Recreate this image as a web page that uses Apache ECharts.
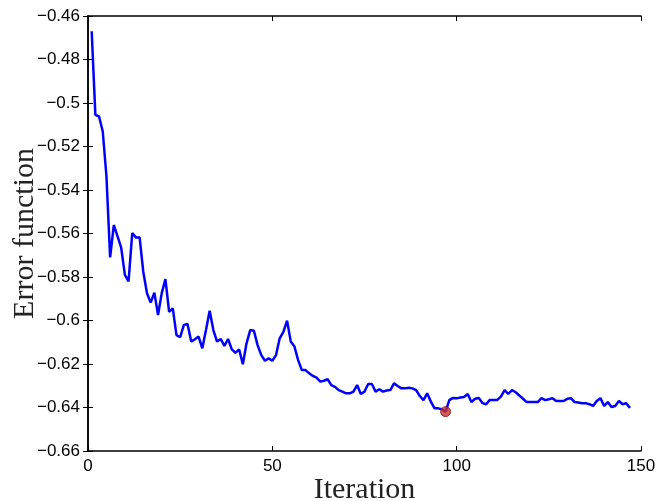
<!DOCTYPE html>
<html>
<head>
<meta charset="utf-8">
<script src="https://cdn.jsdelivr.net/npm/echarts@6/dist/echarts.min.js"></script>
<style>
html,body{margin:0;padding:0;background:#fff;}
#chart{width:657px;height:501px;}
</style>
</head>
<body>
<div id="chart"></div>
<script>
const iterations = [];
for (let i = 1; i <= 147; i++) iterations.push(i);
const errorValues = [
-0.467,-0.5055,-0.5062,-0.5131,-0.5336,-0.571,-0.5561,-0.5612,-0.5665,-0.579,
-0.582,-0.5598,-0.5618,-0.5618,-0.5777,-0.5875,-0.5918,-0.5872,-0.5975,-0.5874,
-0.581,-0.596,-0.5944,-0.6067,-0.6077,-0.602,-0.6016,-0.6097,-0.6086,-0.6074,
-0.6128,-0.6044,-0.5955,-0.6044,-0.6097,-0.6085,-0.6117,-0.6085,-0.6133,-0.6148,
-0.6133,-0.6201,-0.6105,-0.6044,-0.6047,-0.6113,-0.6159,-0.6185,-0.6174,-0.6185,
-0.6159,-0.6082,-0.6052,-0.6001,-0.6097,-0.612,-0.6182,-0.6228,-0.6228,-0.6243,
-0.6255,-0.6263,-0.6281,-0.6277,-0.627,-0.6297,-0.6305,-0.632,-0.6327,-0.6335,
-0.6335,-0.6327,-0.6297,-0.6338,-0.6327,-0.6292,-0.6292,-0.6327,-0.6316,-0.6327,
-0.6322,-0.632,-0.6289,-0.6301,-0.6312,-0.6312,-0.6309,-0.6312,-0.632,-0.6347,
-0.6366,-0.6335,-0.6373,-0.6404,-0.6404,-0.6408,-0.6419,-0.6366,-0.6356,-0.6358,
-0.6354,-0.6352,-0.6338,-0.6375,-0.636,-0.6356,-0.638,-0.6385,-0.6365,-0.6365,
-0.6365,-0.635,-0.632,-0.6338,-0.632,-0.633,-0.6345,-0.636,-0.6375,-0.6375,
-0.6375,-0.6375,-0.6357,-0.6366,-0.6362,-0.6357,-0.637,-0.637,-0.637,-0.636,
-0.6357,-0.6375,-0.6377,-0.638,-0.638,-0.6385,-0.6393,-0.637,-0.6357,-0.6393,
-0.6375,-0.6398,-0.6393,-0.637,-0.6385,-0.638,-0.6402
];
const bestIteration = [97];
const bestValue = [-0.6419];
const xTicks = [0, 50, 100, 150];
const yTicks = [-0.66,-0.64,-0.62,-0.6,-0.58,-0.56,-0.54,-0.52,-0.5,-0.48,-0.46];

const lineData = iterations.map((it, i) => [it, errorValues[i]]);
const bestData = bestIteration.map((it, i) => [it, bestValue[i]]);
const fmtY = v => String(Math.round(v*100)/100).replace('-', '\u2212');

const chart = echarts.init(document.getElementById('chart'), null, {renderer:'canvas'});
const axisLine = {show:true, lineStyle:{color:'#000', width:1.5}};
const tickIn = {show:true, inside:true, length:5, lineStyle:{color:'#000', width:1}};
const labelFont = {color:'#000', fontFamily:'Liberation Sans, Arial, sans-serif', fontSize:17};
const nameFont = {fontFamily:'Liberation Serif, DejaVu Serif, serif', fontSize:30, color:'#222'};
chart.setOption({
  animation:false,
  backgroundColor:'#fff',
  grid:{left:88, right:16, top:16, bottom:50, containLabel:false, outerBoundsMode:'none'},
  xAxis:[{
    type:'value', min:xTicks[0], max:xTicks[xTicks.length-1], interval:50,
    axisLine, axisTick:tickIn, splitLine:{show:false},
    axisLabel:Object.assign({margin:7}, labelFont),
    name:'Iteration', nameLocation:'middle', nameGap:24, nameMoveOverlap:false,
    nameTextStyle:Object.assign({verticalAlign:'top'}, nameFont)
  },{
    type:'value', position:'top', min:0, max:150, interval:50,
    axisLine, axisTick:tickIn, axisLabel:{show:false}, splitLine:{show:false}
  }],
  yAxis:[{
    type:'value', min:yTicks[0], max:yTicks[yTicks.length-1], interval:0.02,
    axisLine, axisTick:tickIn, splitLine:{show:false},
    axisLabel:Object.assign({margin:8, formatter:fmtY}, labelFont),
    name:'Error function', nameLocation:'middle', nameGap:48, nameMoveOverlap:false,
    nameTextStyle:nameFont
  },{
    type:'value', position:'right', min:-0.66, max:-0.46, interval:0.02,
    axisLine, axisTick:tickIn, axisLabel:{show:false}, splitLine:{show:false}
  }],
  series:[{
    type:'line', data:lineData, showSymbol:false, symbol:'none',
    lineStyle:{color:'#0000ff', width:2.5}, z:2
  },{
    type:'scatter', data:bestData, symbol:'circle', symbolSize:10,
    itemStyle:{color:'#c8302a', borderColor:'#8a1a14', borderWidth:1}, z:3
  }]
});
</script>
</body>
</html>
